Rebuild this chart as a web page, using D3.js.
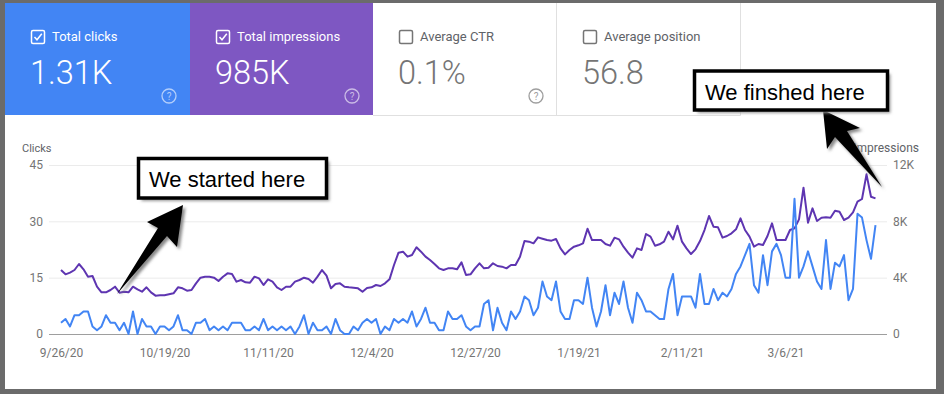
<!DOCTYPE html>
<html><head><meta charset="utf-8">
<script src="https://cdn.jsdelivr.net/npm/d3@7"></script>
<style>
html,body{margin:0;padding:0;background:#6b6b6b;}
svg{display:block;font-family:Roboto,"Noto Sans",sans-serif;}
</style></head>
<body>
<svg id="c" width="944" height="394"></svg>
<script>
// ---------- data ----------
const startDate = "2020-09-26";
const clicks = [3,4,2,5,5,6,6,2,1,2,5,3,3,1,3,0,6,0,4,2,2,0,2,2,1,2,5,1,1,0,3,3,4,1,2,1,2,1,3,3,3,1,1,2,1,4,1,2,1,2,1,2,0,2,5,0,3,1,1,2,0,4,1,
 0,0,2,1,3,4,3,4,0,2,1,4,3,4,3,6,2,4,7,3,3,1,1,6,4,4,5,2,1,2,2,8,9,1,7,3,1,6,4,6,10,9,5,7,14,10,9,14,6,4,4,9,9,8,15,7,2,6,13,5,11,8,
 14,7,3,11,9,6,6,5,4,4,12,16,5,10,10,10,7,16,8,8,12,9,11,10,12,16,18,21,24,13,11,21,13,22,24,21,15,15,36,15,18,22,18,14,12,25,12,19,18,21,9,12,32,31,25,20,29];
const impressions = [4544,4237,4354,4544,4970,4591,4070,4118,3360,2958,2958,3124,3360,2935,3005,2958,3360,3171,3005,3313,2958,2722,2745,2745,2816,2887,3313,3242,3076,3124,3597,4000,4070,4070,4000,3763,4070,4307,4260,3715,3834,3668,3645,4070,3952,3479,3881,3715,3313,3124,3360,3360,3715,3834,4000,3905,3645,4070,4544,4142,3242,3550,3597,
 3360,3313,3290,3242,3005,3266,3313,3479,3408,3597,3881,4899,5775,5846,5491,5609,6153,5846,5491,5254,4970,4662,4544,4662,4662,4591,5088,4189,4237,4662,5017,4662,4710,5017,4828,4781,4662,4899,4899,5491,6603,6556,6437,6863,6769,6674,6627,6745,6082,5656,5964,6201,6296,6437,7479,6674,6674,6674,6390,6272,6840,6722,
 6201,5775,5420,6082,5964,7100,6911,6272,6367,6556,7266,6722,7692,6556,6082,5680,6011,6603,7384,8378,7621,7573,6840,6958,7147,7431,8212,7384,6911,6201,6390,6319,6958,7857,6674,6674,6674,7384,7502,8141,10390,7905,8922,8023,8259,8283,8259,8757,8686,8094,8259,8638,9395,9585,11337,9750,9632];
const clickTicks = [0,15,30,45];
const imprTicks = [0,4000,8000,12000];
const imprTickLabels = ["0","4K","8K","12K"];
const dateTicks = ["2020-09-26","2020-10-19","2020-11-11","2020-12-04","2020-12-27","2021-01-19","2021-02-11","2021-03-06"];
const cards = [
  {label:"Total clicks", value:"1.31K", checked:true, bg:"#4285f4", help:true},
  {label:"Total impressions", value:"985K", checked:true, bg:"#7e57c2", help:true},
  {label:"Average CTR", value:"0.1%", checked:false, bg:"#ffffff", help:true},
  {label:"Average position", value:"56.8", checked:false, bg:"#ffffff", help:false}
];
const notes = [
  {text:"We started here"},
  {text:"We finshed here"}
];

// ---------- drawing ----------
const svg = d3.select("#c");
const parse = d3.utcParse("%Y-%m-%d");
const t0 = parse(startDate);
const dates = clicks.map((d,i)=>d3.utcDay.offset(t0,i));

const defs = svg.append("defs");
const f = defs.append("filter").attr("id","sh").attr("x","-20%").attr("y","-20%").attr("width","150%").attr("height","150%");
f.append("feGaussianBlur").attr("stdDeviation",1.6);

// frame
svg.append("rect").attr("x",0).attr("y",0).attr("width",944).attr("height",394).attr("fill","#6b6b6b");
svg.append("rect").attr("x",5).attr("y",3).attr("width",931).attr("height",386).attr("fill","#ffffff");

// cards
const cardX = [5,190,373,557];
const cardW = [185,183,184,183];
cards.forEach((c,i)=>{
  const g = svg.append("g").attr("transform",`translate(${cardX[i]},3)`);
  const white = c.bg === "#ffffff";
  const fg = white ? "#757575" : "#ffffff";
  g.append("rect").attr("width",cardW[i]).attr("height",112).attr("fill",c.bg);
  g.append("rect").attr("x",26.5).attr("y",27.5).attr("width",13).attr("height",13).attr("rx",1.5)
    .attr("fill","none").attr("stroke",fg).attr("stroke-width",1.5);
  if(c.checked){
    g.append("path").attr("d","M29.5,34 L32,36.8 L36.8,30.8").attr("fill","none").attr("stroke",fg).attr("stroke-width",1.5);
  }
  g.append("text").attr("x",47).attr("y",38).attr("font-size",13).attr("fill",white?"#5f6368":"#ffffff").text(c.label);
  g.append("text").attr("x",25).attr("y",81).attr("font-size",32.5).attr("font-weight",300).attr("fill",fg).text(c.value);
  if(c.help){
    const cx = cardW[i]-21, cy = 93;
    g.append("circle").attr("cx",cx).attr("cy",cy).attr("r",7).attr("fill","none")
      .attr("stroke",white?"#9e9e9e":"rgba(255,255,255,0.6)").attr("stroke-width",1.3);
    g.append("text").attr("x",cx).attr("y",cy+3.5).attr("text-anchor","middle").attr("font-size",10)
      .attr("fill",white?"#9e9e9e":"rgba(255,255,255,0.6)").text("?");
  }
});
// card borders
svg.append("line").attr("x1",373).attr("x2",740.5).attr("y1",115.5).attr("y2",115.5).attr("stroke","#e0e0e0");
svg.append("line").attr("x1",556.5).attr("x2",556.5).attr("y1",3).attr("y2",115).attr("stroke","#e0e0e0");
svg.append("line").attr("x1",740.5).attr("x2",740.5).attr("y1",3).attr("y2",115.5).attr("stroke","#e0e0e0");

// scales
const x = d3.scaleUtc().domain([t0, dates[dates.length-1]]).range([61, 875.5]);
const yL = d3.scaleLinear().domain([0,45]).range([334,165]);
const yR = d3.scaleLinear().domain([0,12000]).range([334,165]);

// grid
svg.append("g").selectAll("line").data(clickTicks.filter(d=>d>0)).join("line")
  .attr("x1",49).attr("x2",887).attr("y1",d=>yL(d)+0.5).attr("y2",d=>yL(d)+0.5)
  .attr("stroke","#ebebeb").attr("stroke-width",1);
svg.append("line").attr("x1",49).attr("x2",887).attr("y1",334.5).attr("y2",334.5).attr("stroke","#9e9e9e");

// axes
const axL = svg.append("g").attr("transform","translate(43,0)")
  .call(d3.axisLeft(yL).tickValues(clickTicks).tickSize(0).tickPadding(0));
const axR = svg.append("g").attr("transform","translate(893,0)")
  .call(d3.axisRight(yR).tickValues(imprTicks).tickSize(0).tickPadding(0).tickFormat((d,i)=>imprTickLabels[i]));
const axB = svg.append("g").attr("transform","translate(0,343)")
  .call(d3.axisBottom(x).tickValues(dateTicks.map(parse)).tickSize(0).tickPadding(0).tickFormat(d3.utcFormat("%-m/%-d/%y")));
[axL,axR,axB].forEach(a=>{
  a.select(".domain").remove();
  a.selectAll("text").attr("fill","#757575").attr("font-size",12).attr("font-family","Roboto,sans-serif");
});
axB.selectAll("text").attr("dy","0.71em").attr("y",5);

svg.append("text").attr("x",22).attr("y",152).attr("font-size",11).attr("fill","#5f6368").text("Clicks");
svg.append("text").attr("x",919).attr("y",152).attr("text-anchor","end").attr("font-size",12).attr("fill","#5f6368").text("Impressions");

// lines
const lineC = d3.line().x((d,i)=>x(dates[i])).y(d=>yL(d));
const lineI = d3.line().x((d,i)=>x(dates[i])).y(d=>yR(d));
svg.append("path").datum(impressions).attr("d",lineI).attr("fill","none").attr("stroke","#5e35b1").attr("stroke-width",2).attr("stroke-linejoin","round");
svg.append("path").datum(clicks).attr("d",lineC).attr("fill","none").attr("stroke","#4285f4").attr("stroke-width",2).attr("stroke-linejoin","round");

// annotations
function arrow(pts){
  const p = pts.map(d=>d.join(",")).join(" ");
  svg.append("polygon").attr("points",p).attr("fill","#888").attr("transform","translate(2.5,2.5)").attr("filter","url(#sh)");
  svg.append("polygon").attr("points",p).attr("fill","#000");
}
function box(bx,by,bw,bh,tx,ty,txt){
  svg.append("rect").attr("x",bx+3).attr("y",by+3).attr("width",bw).attr("height",bh).attr("fill","#999").attr("filter","url(#sh)");
  svg.append("rect").attr("x",bx).attr("y",by).attr("width",bw).attr("height",bh).attr("fill","#fff").attr("stroke","#000").attr("stroke-width",3.5);
  svg.append("text").attr("x",tx).attr("y",ty).attr("font-family","'Liberation Sans',Arial,sans-serif").attr("font-size",22).attr("fill","#000").text(txt);
}
arrow([[183,205],[177,247],[167,236],[117,294],[158,228],[147,222]]);
box(138.5,158.5,188,39.5,149,187,notes[0].text);
arrow([[823,110],[827,149],[835,137],[882,187],[847,131],[860,128]]);
box(694.5,71,193,39,705,99.5,notes[1].text);
</script>
</body></html>
